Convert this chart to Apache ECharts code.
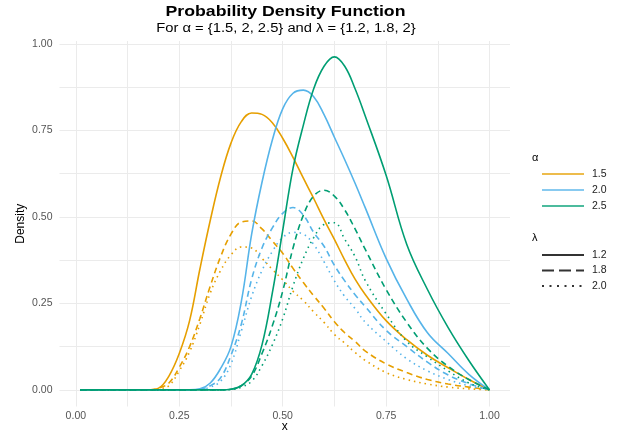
<!DOCTYPE html>
<html>
<head>
<meta charset="utf-8">
<script src="https://cdn.jsdelivr.net/npm/echarts@6/dist/echarts.min.js"></script>
<style>
  html, body { margin: 0; padding: 0; background: #fff; }
  #chart { width: 623px; height: 433px; }
</style>
</head>
<body>
<div id="chart"></div>
<script>
// x positions shared by every curve
const xs = [0.01, 0.1, 0.15, 0.175, 0.2, 0.225, 0.25, 0.275, 0.3, 0.325, 0.35, 0.375, 0.4, 0.425, 0.45, 0.475,
  0.5, 0.525, 0.55, 0.575, 0.6, 0.625, 0.65, 0.675, 0.7, 0.75, 0.8, 0.85, 0.9, 0.95, 1.0];

// alpha = 1.5
const a15l12 = [0, 0, 0, 0, 0.005, 0.04, 0.105, 0.2, 0.35, 0.49, 0.615, 0.713, 0.775, 0.80, 0.796, 0.772,
  0.727, 0.672, 0.612, 0.553, 0.492, 0.435, 0.375, 0.32, 0.275, 0.20, 0.145, 0.10, 0.064, 0.03, 0];
const a15l18 = [0, 0, 0, 0, 0.005, 0.02, 0.065, 0.125, 0.207, 0.30, 0.385, 0.45, 0.485, 0.488, 0.465, 0.43,
  0.395, 0.351, 0.31, 0.272, 0.236, 0.197, 0.165, 0.14, 0.112, 0.075, 0.05, 0.03, 0.017, 0.008, 0];
const a15l20 = [0, 0, 0, 0, 0.003, 0.012, 0.055, 0.11, 0.19, 0.28, 0.345, 0.39, 0.413, 0.41, 0.38, 0.348,
  0.318, 0.285, 0.258, 0.225, 0.195, 0.16, 0.135, 0.108, 0.085, 0.05, 0.03, 0.017, 0.008, 0.003, 0];

// alpha = 2.0
const a20l12 = [0, 0, 0, 0, 0, 0, 0, 0, 0.003, 0.02, 0.062, 0.125, 0.255, 0.45, 0.60, 0.722,
  0.812, 0.857, 0.866, 0.847, 0.795, 0.73, 0.665, 0.597, 0.525, 0.38, 0.262, 0.165, 0.105, 0.045, 0];
const a20l18 = [0, 0, 0, 0, 0, 0, 0, 0, 0.002, 0.012, 0.035, 0.10, 0.19, 0.32, 0.41, 0.468,
  0.51, 0.527, 0.505, 0.455, 0.415, 0.36, 0.315, 0.275, 0.24, 0.172, 0.125, 0.08, 0.043, 0.018, 0];
const a20l20 = [0, 0, 0, 0, 0, 0, 0, 0, 0.001, 0.008, 0.025, 0.075, 0.17, 0.27, 0.345, 0.40,
  0.44, 0.455, 0.45, 0.42, 0.37, 0.315, 0.27, 0.235, 0.195, 0.14, 0.09, 0.055, 0.03, 0.012, 0];

// alpha = 2.5
const a25l12 = [0, 0, 0, 0, 0, 0, 0, 0, 0, 0, 0, 0.002, 0.012, 0.045, 0.13, 0.28,
  0.46, 0.64, 0.765, 0.87, 0.935, 0.962, 0.935, 0.87, 0.79, 0.62, 0.42, 0.29, 0.18, 0.085, 0];
const a25l18 = [0, 0, 0, 0, 0, 0, 0, 0, 0, 0, 0, 0.002, 0.012, 0.04, 0.105, 0.185,
  0.285, 0.41, 0.505, 0.56, 0.577, 0.56, 0.52, 0.465, 0.405, 0.29, 0.195, 0.12, 0.068, 0.03, 0];
const a25l20 = [0, 0, 0, 0, 0, 0, 0, 0, 0, 0, 0, 0.001, 0.008, 0.025, 0.07, 0.13,
  0.205, 0.30, 0.38, 0.44, 0.478, 0.483, 0.435, 0.385, 0.315, 0.22, 0.14, 0.095, 0.055, 0.02, 0];

const alphaLabels = ['1.5', '2.0', '2.5'];
const lambdaLabels = ['1.2', '1.8', '2.0'];
const xTicks = [0, 0.25, 0.5, 0.75, 1];
const yTicks = [0, 0.25, 0.5, 0.75, 1];
const gridSteps = [0, 0.125, 0.25, 0.375, 0.5, 0.625, 0.75, 0.875, 1];

const colors = ['#E69F00', '#56B4E9', '#009E73'];
const dashes = ['solid', [6, 4], [1.5, 4]];
const legendDashes = ['solid', [12, 5], [2, 5.5]];
const FONT = '"Liberation Sans", Arial, sans-serif';

const curves = [
  [a15l12, a15l18, a15l20],
  [a20l12, a20l18, a20l20],
  [a25l12, a25l18, a25l20]
];

const series = [];
curves.forEach((group, ai) => {
  group.forEach((ys, li) => {
    series.push({
      name: 'c' + ai + li,
      type: 'line',
      data: xs.map((x, i) => [x, ys[i]]),
      symbol: 'none',
      smooth: 0.4,
      silent: true,
      lineStyle: { color: colors[ai], width: 1.6, type: dashes[li] },
      itemStyle: { color: colors[ai] }
    });
  });
});

// empty series only used to drive the two legends
alphaLabels.forEach((a, i) => {
  series.push({
    name: 'a' + a, type: 'line', data: [], symbol: 'none',
    lineStyle: { color: colors[i], width: 2, opacity: 0.7 },
    itemStyle: { color: colors[i] }
  });
});
lambdaLabels.forEach((l, i) => {
  series.push({
    name: 'l' + l, type: 'line', data: [], symbol: 'none',
    lineStyle: { color: '#333', width: 1.8, type: legendDashes[i] },
    itemStyle: { color: '#333' }
  });
});

const legendBase = {
  orient: 'vertical',
  left: 536,
  itemWidth: 42,
  itemHeight: 12,
  selectedMode: false,
  itemStyle: { opacity: 0 },
  formatter: n => n.slice(1),
  textStyle: { fontFamily: FONT, fontSize: 10.5, color: '#222', lineHeight: 12, padding: [0, 0, 0, 3] }
};

const chart = echarts.init(document.getElementById('chart'), null, { renderer: 'canvas' });
chart.setOption({
  animation: false,
  backgroundColor: '#fff',
  textStyle: { fontFamily: FONT },
  grid: { left: 59.5, right: 113, top: 41, bottom: 26.5, containLabel: false, outerBoundsMode: 'none' },
  xAxis: {
    type: 'value',
    min: -0.0395,
    max: 1.0495,
    name: 'x',
    nameLocation: 'middle',
    nameGap: 14,
    nameMoveOverlap: false,
    nameTextStyle: { color: '#000', fontSize: 12, fontFamily: FONT },
    axisLine: { show: false },
    axisTick: { show: false, customValues: gridSteps },
    axisLabel: { customValues: xTicks, formatter: v => v.toFixed(2), color: '#555', fontSize: 10.5, margin: 4 },
    splitLine: { show: true, lineStyle: { color: '#ebebeb', width: 1 } }
  },
  yAxis: {
    type: 'value',
    min: -0.048,
    max: 1.008,
    name: 'Density',
    nameLocation: 'middle',
    nameGap: 33,
    nameMoveOverlap: false,
    nameRotate: 90,
    nameTextStyle: { color: '#000', fontSize: 12, fontFamily: FONT },
    axisLine: { show: false },
    axisTick: { show: false, customValues: gridSteps },
    axisLabel: { customValues: yTicks, formatter: v => v.toFixed(2), color: '#555', fontSize: 10.5, margin: 7 },
    splitLine: { show: true, lineStyle: { color: '#ebebeb', width: 1 } }
  },
  legend: [
    Object.assign({}, legendBase, { data: alphaLabels.map(a => 'a' + a), top: 163, itemGap: 4 }),
    Object.assign({}, legendBase, { data: lambdaLabels.map(l => 'l' + l), top: 244, itemGap: 3.5 })
  ],
  graphic: [
    {
      type: 'text', x: 285.5, y: 11.5, scaleX: 1.18,
      style: { text: 'Probability Density Function', font: 'bold 15px ' + FONT, fill: '#000',
        textAlign: 'center', textVerticalAlign: 'middle', align: 'center', verticalAlign: 'middle' }
    },
    {
      type: 'text', x: 286, y: 28.5, scaleX: 1.18,
      style: { text: 'For \u03b1 = {1.5, 2, 2.5} and \u03bb = {1.2, 1.8, 2}', font: '12.5px ' + FONT, fill: '#000',
        textAlign: 'center', textVerticalAlign: 'middle', align: 'center', verticalAlign: 'middle' }
    },
    {
      type: 'text', x: 532, y: 158,
      style: { text: '\u03b1', font: '11px ' + FONT, fill: '#000',
        textAlign: 'left', textVerticalAlign: 'middle', align: 'left', verticalAlign: 'middle' }
    },
    {
      type: 'text', x: 532, y: 238,
      style: { text: '\u03bb', font: '11px ' + FONT, fill: '#000',
        textAlign: 'left', textVerticalAlign: 'middle', align: 'left', verticalAlign: 'middle' }
    }
  ],
  series: series
});
</script>
</body>
</html>
